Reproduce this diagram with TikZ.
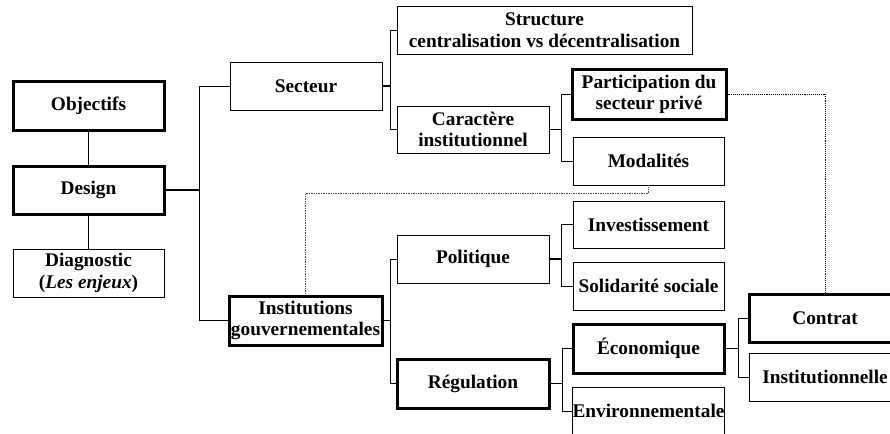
\documentclass[tikz,border=0pt]{standalone}
\usepackage{fontspec}
\setmainfont{Liberation Serif}

\begin{document}
\begin{tikzpicture}[x=1pt,y=-1pt,line join=miter]
	% Bold serif labels in every box
	\tikzstyle{every node}=[font=\fontsize{19.3}{21.7}\selectfont\bfseries,align=center,inner sep=0pt]
	\tikzstyle{box}=[draw,line width=0.9pt]
	\tikzstyle{keybox}=[draw,line width=3pt]
	\tikzstyle{stub}=[line width=1.6pt]
	\tikzstyle{branch}=[line width=0.9pt]
	\tikzstyle{link}=[densely dotted,line width=0.7pt,gray!60!black]

	\useasboundingbox (0,0) rectangle (890,433);

	% left column
	\node[keybox,minimum width=151,minimum height=48] (obj) at (88.5,106) {Objectifs};
	\node[keybox,minimum width=151,minimum height=48] (design) at (88.5,190) {Design};
	\node[box,minimum width=151,minimum height=48] (diag) at (88.5,273) {Diagnostic\\(\textit{Les enjeux})};

	% sector branch
	\node[box,minimum width=152,minimum height=48] (secteur) at (306,86) {Secteur};
	\node[box,minimum width=295,minimum height=48] (struct) at (544.5,30) {Structure\\centralisation vs décentralisation};
	\node[box,minimum width=152,minimum height=47] (caract) at (473,129.5) {Caractère\\institutionnel};
	\node[keybox,minimum width=154,minimum height=49] (particip) at (649,94.5) {Participation du\\secteur privé};
	\node[box,minimum width=151,minimum height=48] (modal) at (648.5,161) {Modalités};

	% government branch
	\node[keybox,minimum width=153,minimum height=49] (inst) at (305.5,320.5) {Institutions\\gouvernementales};
	\node[box,minimum width=152,minimum height=48] (polit) at (473,259) {Politique};
	\node[keybox,minimum width=152,minimum height=49] (regul) at (473,383.5) {Régulation};
	\node[box,minimum width=151,minimum height=47] (invest) at (648.5,224.5) {Investissement};
	\node[box,minimum width=151,minimum height=48] (solid) at (648.5,286) {Solidarité sociale};
	\node[keybox,minimum width=151,minimum height=49] (econ) at (648.5,348.5) {Économique};
	\node[box,minimum width=151,minimum height=48] (env) at (648.5,411) {Environnementale};
	\node[keybox,minimum width=152,minimum height=48] (contrat) at (825,318) {Contrat};
	\node[box,minimum width=152,minimum height=48] (instl) at (825,377) {Institutionnelle};

	% vertical links of the left column
	\draw[branch] (obj) -- (design);
	\draw[branch] (design) -- (diag);

	% tree connectors: parent / distance to the fork / child
	\foreach \p/\dx/\c in {design/34/secteur, design/34/inst,
		secteur/8/struct, secteur/8/caract,
		caract/12/particip, caract/12/modal,
		inst/7/polit, inst/7/regul,
		polit/12/invest, polit/12/solid,
		regul/12/econ, regul/12/env,
		econ/13/contrat, econ/13/instl} {
		\draw[stub] (\p.east) -- ++(\dx,0);
		\draw[branch] ([xshift=\dx]\p.east) |- (\c.west);
	}

	% dotted cross links
	\draw[link,black,line width=0.9pt] (particip.east) -| (contrat.north);
	\draw[link] (modal.south) -- ++(0,8) -| (inst.north);
\end{tikzpicture}
\end{document}
